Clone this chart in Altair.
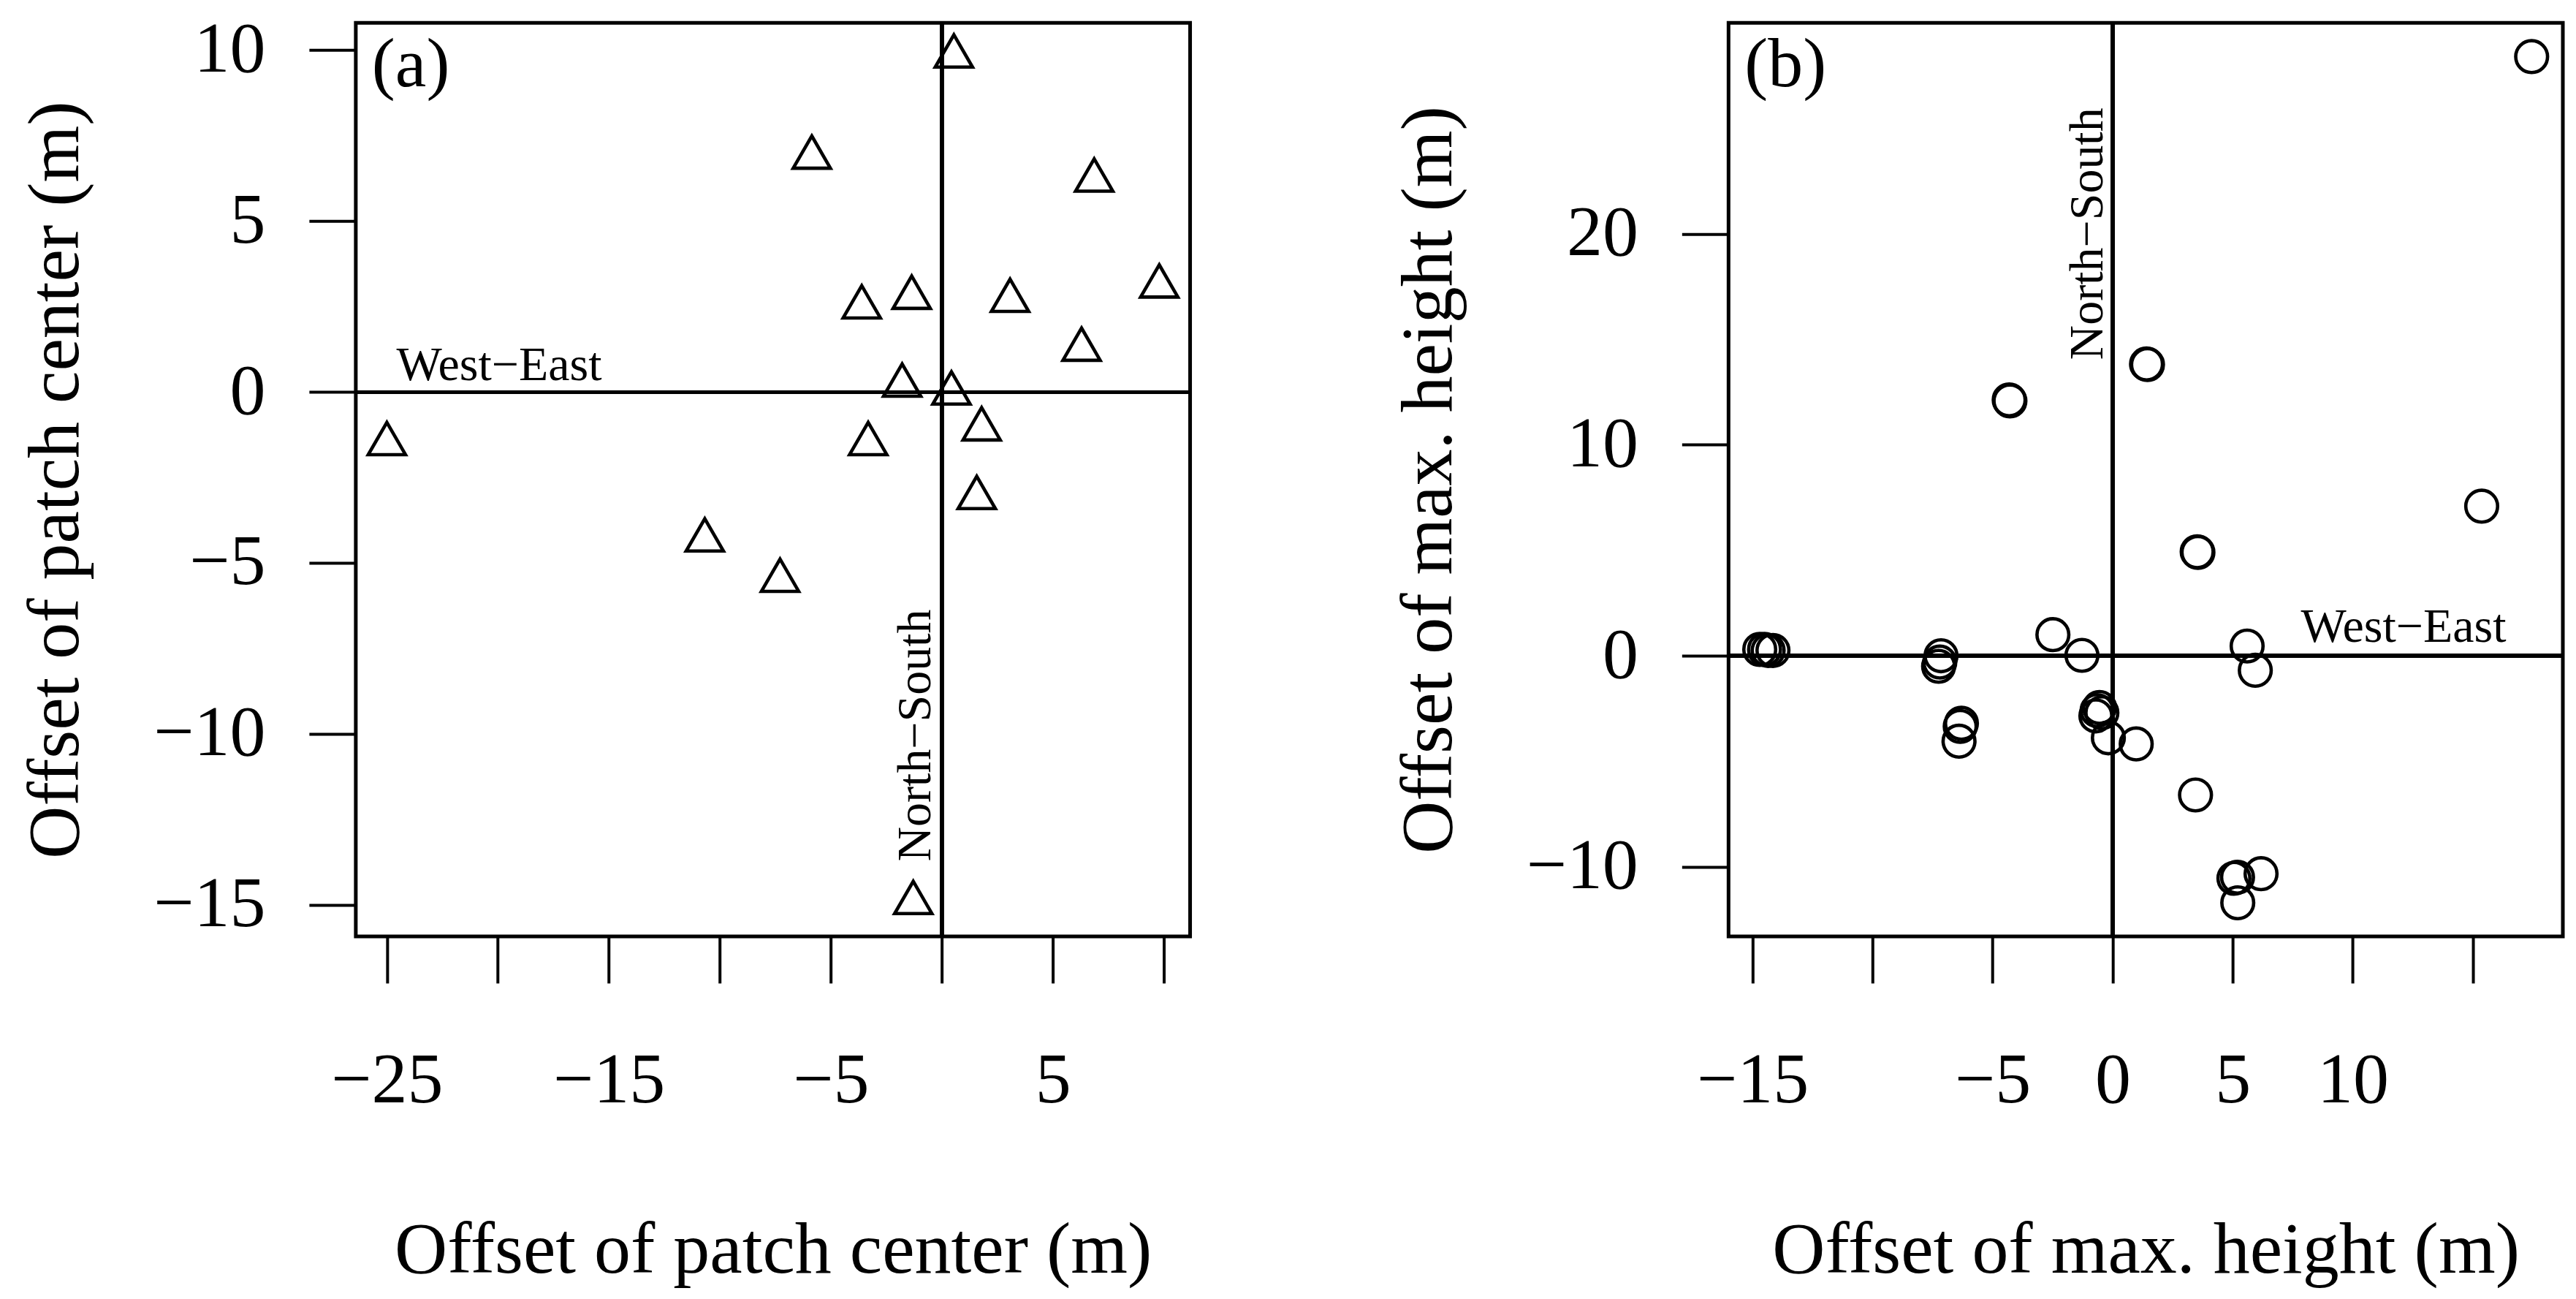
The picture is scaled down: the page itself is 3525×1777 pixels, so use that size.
import altair as alt
import pandas as pd

FONT = "Liberation Serif"

# ---------------- Panel (a): offset of patch center (triangles) ----------------
a_x = [0.54, -5.86, 6.86, -3.61, -1.36, 3.07, 9.79, 6.29, -1.79, 0.43,
       1.79, 1.57, -3.32, -25.00, -10.68, -7.29, -1.29]
a_y = [9.82, 6.86, 6.19, 2.48, 2.76, 2.67, 3.09, 1.24, 0.19, -0.04,
       -1.09, -3.10, -1.52, -1.52, -4.34, -5.52, -14.95]

a_x_ticks = [-25, -20, -15, -10, -5, 0, 5, 10]
a_x_labels = [-25, -15, -5, 5]
a_y_ticks = [-15, -10, -5, 0, 5, 10]
a_x_domain = [-26.40, 11.18]
a_y_domain = [-15.93, 10.80]
a_title = "Offset of patch center (m)"

# ---------------- Panel (b): offset of max. height (circles) ----------------
b_x = [-14.70, -14.50, -14.35, -14.15, -7.15, -7.25, -7.20, -6.30, -6.35, -6.40,
       -4.31, -4.28, -2.49, -1.28, -0.55, -0.65, -0.70, -0.45, -0.18, 0.98,
       1.41, 1.45, 3.52, 3.55, 3.45, 5.60, 5.94, 5.05, 5.20, 6.18,
       5.21, 15.37, 17.45]
b_y = [0.30, 0.30, 0.25, 0.25, 0.00, -0.50, -0.30, -3.20, -3.35, -4.05,
       12.13, 12.08, 1.00, 0.02, -2.45, -2.60, -2.85, -2.70, -3.89, -4.18,
       13.83, 13.80, 4.93, 4.90, -6.60, 0.46, -0.69, -10.55, -10.50, -10.33,
       -11.71, 7.09, 28.40]

b_x_ticks = [-15, -10, -5, 0, 5, 10, 15]
b_x_labels = [-15, -5, 0, 5, 10]
b_y_ticks = [-10, 0, 10, 20]
b_x_domain = [-16.00, 18.75]
b_y_domain = [-13.30, 30.00]
b_title = "Offset of max. height (m)"

# annotation texts: (text, x, y)
a_we = ("West\u2212East", -24.57, 0.34)
a_ns = ("North\u2212South", -0.52, -10.05)
b_we = ("West\u2212East", 7.84, 0.65)
b_ns = ("North\u2212South", -0.44, 20.0)

TRIANGLE = "M0,-1.1547L1,0.5774L-1,0.5774Z"

W, H = 1142, 1250


def panel(xs, ys, shape, size, xdom, ydom, xticks, xlabels, yticks, title,
          we, ns, tag):
    df = pd.DataFrame({"x": xs, "y": ys})
    xs_ = alt.Scale(domain=xdom, nice=False, zero=False)
    ys_ = alt.Scale(domain=ydom, nice=False, zero=False)
    common = dict(domain=False, grid=False, ticks=True, tickSize=64,
                  tickWidth=4, tickColor="black", labelFont=FONT,
                  labelFontSize=98, labelColor="black", titleFont=FONT,
                  titleFontSize=100, titleFontWeight="normal",
                  titleColor="black", format="d", labelFlush=False,
                  labelOverlap=False)
    xaxis = alt.Axis(values=xticks, title=title, labelPadding=86,
                     labelExpr=f"indexof({xlabels}, datum.value) >= 0 ? datum.label : ''",
                     titleBaseline="alphabetic", titleY=460, **common)
    yaxis = alt.Axis(values=yticks, title=title, labelPadding=60,
                     labelAngle=0, titleAngle=270, titleBaseline="alphabetic",
                     titleX=-380, **common)

    pts = alt.Chart(df).mark_point(
        shape=shape, filled=False, size=size, strokeWidth=4.6,
        color="black", opacity=1
    ).encode(
        x=alt.X("x:Q", scale=xs_, axis=xaxis),
        y=alt.Y("y:Q", scale=ys_, axis=yaxis),
    )
    hline = alt.Chart(df).mark_rule(color="black", strokeWidth=4.5).encode(
        y=alt.datum(0))
    vline = alt.Chart(df).mark_rule(color="black", strokeWidth=4.5).encode(
        x=alt.datum(0))

    we_df = pd.DataFrame({"t": [we[0]], "x": [we[1]], "y": [we[2]]})
    ns_df = pd.DataFrame({"t": [ns[0]], "x": [ns[1]], "y": [ns[2]]})
    we_txt = alt.Chart(we_df).mark_text(
        font=FONT, fontSize=66, align="left", baseline="alphabetic",
        color="black"
    ).encode(x="x:Q", y="y:Q", text="t:N")
    ns_txt = alt.Chart(ns_df).mark_text(
        font=FONT, fontSize=66, align="center", baseline="alphabetic",
        angle=270, color="black"
    ).encode(x="x:Q", y="y:Q", text="t:N")

    tag_df = pd.DataFrame({"t": [tag]})
    tag_txt = alt.Chart(tag_df).mark_text(
        font=FONT, fontSize=96, align="left", baseline="alphabetic",
        color="black"
    ).encode(x=alt.value(22), y=alt.value(87), text="t:N")

    return alt.layer(pts, hline, vline, we_txt, ns_txt, tag_txt).properties(
        width=W, height=H)


pa = panel(a_x, a_y, TRIANGLE, 2600, a_x_domain, a_y_domain, a_x_ticks,
           a_x_labels, a_y_ticks, a_title, a_we, a_ns, "(a)")
pb = panel(b_x, b_y, "circle", 1900, b_x_domain, b_y_domain, b_x_ticks,
           b_x_labels, b_y_ticks, b_title, b_we, b_ns, "(b)")

chart = alt.hconcat(pa, pb, spacing=269).properties(
    padding={"left": 16, "top": 8, "right": 5, "bottom": 5},
    background="white",
).configure_view(stroke="black", strokeWidth=5)

chart.save("out.html", embed_options={"renderer": "svg", "actions": False})
